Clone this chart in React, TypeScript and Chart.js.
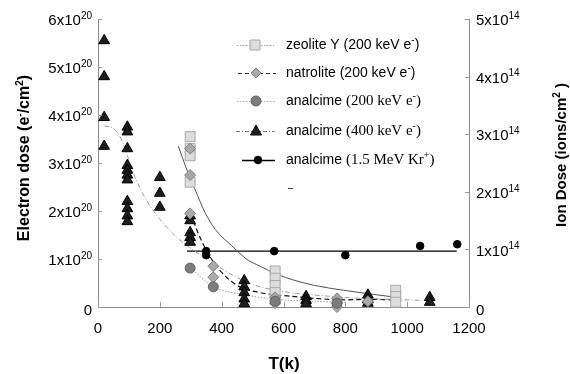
import React, { useEffect, useRef } from 'react';
import { Chart, registerables } from 'chart.js';
Chart.register(...registerables);

const SANS = '"Liberation Sans", Arial, sans-serif';
const SERIF = '"Liberation Serif", "Times New Roman", serif';

// ---- data: [T (K), dose] ; electron dose in units of 1e20 e-/cm2, ion dose in 1e14 ions/cm2
const zeoliteY200 = [
  [298, 3.55], [298, 3.3], [298, 3.15], [298, 2.6],
  [573, 0.75], [573, 0.6], [573, 0.45], [573, 0.3], [573, 0.15],
  [963, 0.35], [963, 0.22], [963, 0.1],
];
const natrolite200 = [
  [298, 3.3], [298, 2.75], [298, 1.95],
  [373, 0.85], [373, 0.62],
  [573, 0.2], [573, 0.08],
  [773, 0.18], [773, 0.08], [773, 0.0],
  [873, 0.12],
];
const analcime200 = [
  [298, 0.81], [373, 0.42], [573, 0.12], [773, 0.08],
];
const analcime400 = [
  [20, 5.55], [20, 4.8], [20, 3.95], [20, 3.35],
  [95, 3.75], [95, 3.65], [95, 3.3], [95, 2.95], [95, 2.85], [95, 2.75], [95, 2.65],
  [95, 2.2], [95, 2.05], [95, 1.9], [95, 1.78],
  [200, 2.7], [200, 2.37], [200, 2.08],
  [298, 1.9], [298, 1.8], [298, 1.55], [298, 1.45], [298, 1.35],
  [473, 0.55], [473, 0.42], [473, 0.3], [473, 0.17], [473, 0.07],
  [673, 0.22], [673, 0.14], [673, 0.07],
  [873, 0.25], [873, 0.15], [873, 0.08],
  [1073, 0.2], [1073, 0.1],
];
const analcimeKr = [
  [350, 0.97], [350, 0.9], [570, 0.97], [800, 0.9], [1042, 1.06], [1162, 1.09],
];

// fitted curves
const zeoliteYFit = [
  [260, 3.35], [282, 2.95], [314, 2.45], [346, 1.97], [379, 1.62], [437, 1.25], [480, 1.0],
  [524, 0.85], [580, 0.68], [633, 0.56], [700, 0.45], [793, 0.35], [870, 0.28], [955, 0.21],
];
const natroliteFit = [
  [300, 1.95], [320, 1.6], [345, 1.25], [372, 0.95], [400, 0.72], [450, 0.45], [524, 0.3],
  [600, 0.24], [700, 0.18], [800, 0.15], [880, 0.16], [950, 0.15],
];
const analcime200Fit = [
  [300, 0.81], [340, 0.58], [372, 0.42], [420, 0.32], [480, 0.25], [524, 0.2], [600, 0.15],
  [700, 0.12], [800, 0.1],
];
const analcime400Fit = [
  [20, 3.77], [50, 3.72], [75, 3.5], [95, 3.15], [120, 2.7], [150, 2.3], [185, 1.95],
  [250, 1.48], [305, 1.2], [356, 0.98], [420, 0.72], [470, 0.55], [524, 0.42], [600, 0.32],
  [700, 0.25], [800, 0.2], [900, 0.17], [1040, 0.14],
];
const analcimeKrFit = [[288, 0.97], [1160, 0.97]];

const xTickValues = [0, 200, 400, 600, 800, 1000, 1200];
const leftTickValues = [0, 1, 2, 3, 4, 5, 6];
const leftTickExp = '20';
const rightTickValues = [0, 1, 2, 3, 4, 5];
const rightTickExp = '14';

const legendLabels = [
  { name: 'zeolite Y ', extra: '(200 keV e', sup: '-', tail: ')', serif: false },
  { name: 'natrolite ', extra: '(200 keV e', sup: '-', tail: ')', serif: false },
  { name: 'analcime ', extra: '(200 keV e', sup: '-', tail: ')', serif: true },
  { name: 'analcime ', extra: '(400 keV e', sup: '-', tail: ')', serif: true },
  { name: 'analcime ', extra: '(1.5 MeV Kr', sup: '+', tail: ')', serif: true },
];

const toXY = (a: number[][]) => a.map(([x, y]) => ({ x, y }));

type Seg = { t: string; f: string; sup?: boolean };

function drawRich(ctx: CanvasRenderingContext2D, segs: Seg[], x: number, y: number, align: 'left' | 'right' | 'center') {
  let total = 0;
  for (const s of segs) { ctx.font = s.f; total += ctx.measureText(s.t).width; }
  let cx = align === 'left' ? x : align === 'right' ? x - total : x - total / 2;
  ctx.textAlign = 'left';
  ctx.textBaseline = 'middle';
  for (const s of segs) {
    ctx.font = s.f;
    ctx.fillText(s.t, cx, s.sup ? y - 5 : y);
    cx += ctx.measureText(s.t).width;
  }
}

function drawMarker(ctx: CanvasRenderingContext2D, kind: string, x: number, y: number) {
  ctx.save();
  ctx.lineWidth = 1;
  ctx.beginPath();
  if (kind === 'rect') {
    ctx.fillStyle = '#dcdcdc'; ctx.strokeStyle = '#a8a8a8';
    ctx.rect(x - 5, y - 5, 10, 10);
  } else if (kind === 'rectRot') {
    ctx.fillStyle = '#a9a9a9'; ctx.strokeStyle = '#808080';
    ctx.moveTo(x, y - 5); ctx.lineTo(x + 5, y); ctx.lineTo(x, y + 5); ctx.lineTo(x - 5, y); ctx.closePath();
  } else if (kind === 'circle') {
    ctx.fillStyle = '#7c7c7c'; ctx.strokeStyle = '#606060';
    ctx.arc(x, y, 5, 0, Math.PI * 2);
  } else if (kind === 'triangle') {
    ctx.fillStyle = '#1e1e1e'; ctx.strokeStyle = '#000';
    ctx.moveTo(x, y - 6); ctx.lineTo(x + 5.5, y + 4); ctx.lineTo(x - 5.5, y + 4); ctx.closePath();
  } else {
    ctx.fillStyle = '#000'; ctx.strokeStyle = '#000';
    ctx.arc(x, y, 3.8, 0, Math.PI * 2);
  }
  ctx.fill(); ctx.stroke();
  ctx.restore();
}

const decorPlugin = {
  id: 'decor',
  afterDraw(chart: any) {
    const ctx: CanvasRenderingContext2D = chart.ctx;
    const xs = chart.scales.x, ys = chart.scales.y, y1 = chart.scales.y1;
    const area = chart.chartArea;
    ctx.save();
    // inward tick marks
    ctx.strokeStyle = '#9a9a9a';
    ctx.lineWidth = 1;
    ctx.beginPath();
    for (const v of xTickValues) {
      const px = Math.round(xs.getPixelForValue(v)) + 0.5;
      ctx.moveTo(px, area.bottom); ctx.lineTo(px, area.bottom - 5);
    }
    for (const v of leftTickValues) {
      const py = Math.round(ys.getPixelForValue(v)) + 0.5;
      ctx.moveTo(area.left, py); ctx.lineTo(area.left + 4, py);
    }
    for (const v of rightTickValues) {
      const py = Math.round(y1.getPixelForValue(v)) + 0.5;
      ctx.moveTo(area.right, py); ctx.lineTo(area.right - 4, py);
    }
    ctx.stroke();

    ctx.fillStyle = '#000';
    const tf = `15px ${SANS}`;
    const sf = `10px ${SANS}`;
    // x tick labels
    for (const v of xTickValues) {
      drawRich(ctx, [{ t: String(v), f: tf }], xs.getPixelForValue(v), area.bottom + 22, 'center');
    }
    for (const v of leftTickValues) {
      const py = ys.getPixelForValue(v) + 2;
      const segs: Seg[] = v === 0 ? [{ t: '0', f: tf }] : [{ t: `${v}x10`, f: tf }, { t: leftTickExp, f: sf, sup: true }];
      drawRich(ctx, segs, area.left - 6, v === 0 ? py + 2 : py, 'right');
    }
    for (const v of rightTickValues) {
      const py = y1.getPixelForValue(v) + 2;
      const segs: Seg[] = v === 0 ? [{ t: '0', f: tf }] : [{ t: `${v}x10`, f: tf }, { t: rightTickExp, f: sf, sup: true }];
      drawRich(ctx, segs, area.right + 7, v === 0 ? py + 2 : py, 'left');
    }

    // axis titles
    const bf = `bold 16px ${SANS}`;
    const bsf = `bold 10px ${SANS}`;
    ctx.save();
    ctx.translate(25, 158);
    ctx.rotate(-Math.PI / 2);
    drawRich(ctx, [
      { t: 'Electron dose (e', f: bf }, { t: '-', f: bsf, sup: true }, { t: '/cm', f: bf },
      { t: '2', f: bsf, sup: true }, { t: ')', f: bf },
    ], 0, 0, 'center');
    ctx.restore();

    ctx.save();
    ctx.translate(562, 155);
    ctx.rotate(-Math.PI / 2);
    const rf = `bold 15px ${SANS}`;
    drawRich(ctx, [
      { t: 'Ion Dose (ions/cm', f: rf }, { t: '2', f: bsf, sup: true }, { t: ' )', f: rf },
    ], 0, 0, 'center');
    ctx.restore();

    drawRich(ctx, [{ t: 'T(k)', f: `bold 17px ${SANS}` }], 284, 364, 'center');

    // legend
    const rows = [45, 73, 101, 131, 160];
    const kinds = ['rect', 'rectRot', 'circle', 'triangle', 'dot'];
    const lineStyles: { c: string; d: number[]; w: number; x0: number; x1: number }[] = [
      { c: '#9a9a9a', d: [1.5, 1.5], w: 1, x0: 237, x1: 274 },
      { c: '#333', d: [4, 3], w: 1.2, x0: 238, x1: 276 },
      { c: '#aaaaaa', d: [1.5, 1.5], w: 1, x0: 237, x1: 275 },
      { c: '#7a7a7a', d: [4, 2, 1, 2], w: 1, x0: 236, x1: 275 },
      { c: '#000', d: [], w: 1.3, x0: 242, x1: 275 },
    ];
    const mx = [255, 256, 256, 256, 258];
    legendLabels.forEach((lb, i) => {
      const y = rows[i];
      const ls = lineStyles[i];
      ctx.save();
      ctx.strokeStyle = ls.c; ctx.lineWidth = ls.w; ctx.setLineDash(ls.d);
      ctx.beginPath(); ctx.moveTo(ls.x0, y + 0.5); ctx.lineTo(ls.x1, y + 0.5); ctx.stroke();
      ctx.restore();
      drawMarker(ctx, kinds[i], mx[i], y);
      const nf = `14px ${SANS}`;
      const ef = lb.serif ? `15px ${SERIF}` : `14px ${SANS}`;
      const supf = lb.serif ? `10px ${SERIF}` : `10px ${SANS}`;
      ctx.fillStyle = '#000';
      drawRich(ctx, [
        { t: lb.name, f: nf }, { t: lb.extra, f: ef }, { t: lb.sup, f: supf, sup: true }, { t: lb.tail, f: ef },
      ], 286, y, 'left');
    });
    // small stray mark below legend
    ctx.strokeStyle = '#444'; ctx.lineWidth = 1; ctx.setLineDash([]);
    ctx.beginPath(); ctx.moveTo(288, 188.5); ctx.lineTo(293, 188.5); ctx.stroke();
    ctx.restore();
  },
};

export default function App() {
  const ref = useRef<HTMLCanvasElement>(null);
  useEffect(() => {
    if (!ref.current) return;
    const lineDs = (data: number[][], color: string, dash: number[], width: number, axis = 'y') => ({
      type: 'line' as const,
      data: toXY(data),
      yAxisID: axis,
      borderColor: color,
      borderDash: dash,
      borderWidth: width,
      pointRadius: 0,
      fill: false,
      showLine: true,
      cubicInterpolationMode: 'monotone' as const,
      tension: 0.4,
      order: 10,
    });
    const chart = new Chart(ref.current, {
      type: 'scatter',
      data: {
        datasets: [
          lineDs(analcime400Fit, '#9a9a9a', [5, 2, 1, 2], 1),
          lineDs(zeoliteYFit, '#505050', [], 1),
          lineDs(natroliteFit, '#111', [5, 3], 1.2),
          lineDs(analcime200Fit, '#9a9a9a', [1.5, 1.5], 1),
          lineDs(analcimeKrFit, '#000', [], 1.3, 'y1'),
          {
            label: 'analcime (400 keV e-)', data: toXY(analcime400), yAxisID: 'y',
            pointStyle: 'triangle', pointRadius: 6.2, backgroundColor: '#1e1e1e', borderColor: '#000', borderWidth: 1,
            order: 4, clip: false,
          },
          {
            label: 'zeolite Y (200 keV e-)', data: toXY(zeoliteY200), yAxisID: 'y',
            pointStyle: 'rect', pointRadius: 7, backgroundColor: '#dcdcdc', borderColor: '#a8a8a8', borderWidth: 1,
            order: 3, clip: false,
          },
          {
            label: 'natrolite (200 keV e-)', data: toXY(natrolite200), yAxisID: 'y',
            pointStyle: 'rectRot', pointRadius: 5.5, backgroundColor: '#a9a9a9', borderColor: '#808080', borderWidth: 1,
            order: 2, clip: false,
          },
          {
            label: 'analcime (200 keV e-)', data: toXY(analcime200), yAxisID: 'y',
            pointStyle: 'circle', pointRadius: 5, backgroundColor: '#7c7c7c', borderColor: '#606060', borderWidth: 1,
            order: 1, clip: false,
          },
          {
            label: 'analcime (1.5 MeV Kr+)', data: toXY(analcimeKr), yAxisID: 'y1',
            pointStyle: 'circle', pointRadius: 3.8, backgroundColor: '#000', borderColor: '#000', borderWidth: 1,
            order: 0, clip: false,
          },
        ] as any,
      },
      options: {
        animation: false,
        responsive: false,
        maintainAspectRatio: false,
        layout: { padding: { top: 19, left: 0, right: 0, bottom: 0 } },
        plugins: { legend: { display: false }, tooltip: { enabled: false } },
        scales: {
          x: {
            type: 'linear', min: 0, max: 1200,
            ticks: { display: false, stepSize: 200 },
            grid: { display: false },
            border: { display: true, color: '#8a8a8a', width: 1 },
            afterFit: (s: any) => { s.height = 67; },
          },
          y: {
            type: 'linear', position: 'left', min: 0, max: 6,
            ticks: { display: false, stepSize: 1 },
            grid: { display: false },
            border: { display: true, color: '#8a8a8a', width: 1 },
            afterFit: (s: any) => { s.width = 98; },
          },
          y1: {
            type: 'linear', position: 'right', min: 0, max: 5,
            ticks: { display: false, stepSize: 1 },
            grid: { display: false },
            border: { display: true, color: '#8a8a8a', width: 1 },
            afterFit: (s: any) => { s.width = 101; },
          },
        },
      } as any,
      plugins: [decorPlugin],
    });
    return () => chart.destroy();
  }, []);
  return (
    <div style={{ position: 'fixed', left: 0, top: 0, width: 570, height: 374, background: '#fff' }}>
      <canvas ref={ref} width={570} height={374} style={{ width: 570, height: 374, display: 'block' }} />
    </div>
  );
}
